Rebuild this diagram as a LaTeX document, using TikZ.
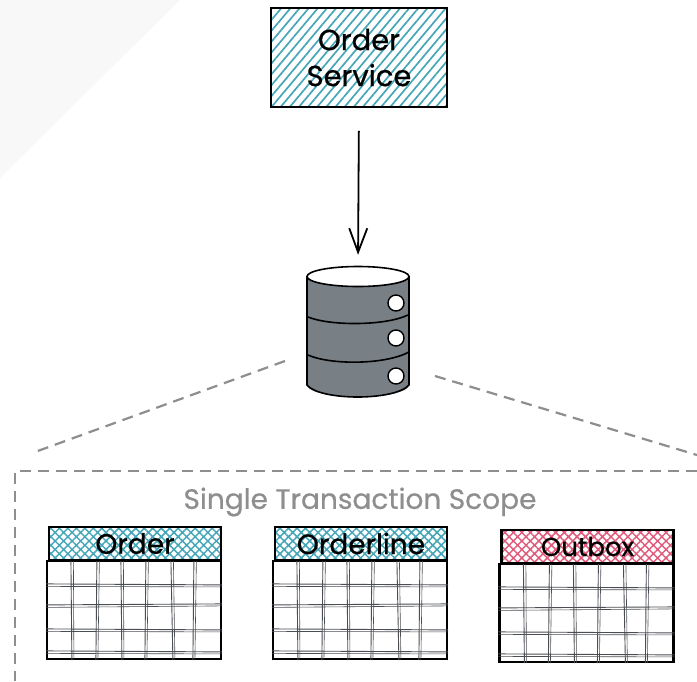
\documentclass[tikz,border=0pt]{standalone}
\usepackage{fontspec}
\setmainfont{Poppins}[FakeBold=0.6]
\usetikzlibrary{patterns.meta}
\usetikzlibrary{arrows.meta}
\definecolor{hatchteal}{HTML}{45A6B8}
\definecolor{hatchpink}{HTML}{DF5A7B}
\definecolor{dbgray}{HTML}{787F85}
\definecolor{scopegray}{HTML}{8E8E8E}
\definecolor{cornergray}{HTML}{F8F8F8}
\definecolor{gridgray}{HTML}{4A4E52}

\begin{document}
\begin{tikzpicture}[x=1pt,y=-1pt]
  \useasboundingbox (0,0) rectangle (697,681);
  \tikzstyle{boxline}=[draw=black,line width=2.2pt,inner sep=0pt]
  \tikzstyle{scopeline}=[draw=scopegray,line width=2.2pt,dash pattern=on 11pt off 7pt]
  \fill[cornergray] (0,0) -- (180,0) -- (0,178) -- cycle;

%% service and database
  \node[boxline,minimum width=176pt,minimum height=99pt,align=center,
        font=\fontsize{29}{36}\selectfont,
        pattern={Lines[angle=50,distance=7pt,line width=1.7pt]},pattern color=hatchteal]
        (service) at (359,57.5) {Order\\Service};
  \fill[dbgray] (307,276) -- (307,385) arc[x radius=51,y radius=-12,start angle=180,end angle=360] -- (409,276) -- cycle;
  \draw[line width=1.6pt] (307,276) -- (307,385) .. controls (320,401) and (395,401) .. (409,385) -- (409,276);
  \draw[line width=1.6pt,fill=white] (358,276.5) ellipse[x radius=51,y radius=10];
  \node[minimum width=102pt,minimum height=131pt,inner sep=0pt] (db) at (358,331.5) {};
  \draw[-{Straight Barb[length=24pt,width=18pt]},line width=1.8pt,shorten <=23pt,shorten >=11pt]
        (service.south) -- (db.north);

%% bands and holes of the database
  \draw[line width=1.6pt] (308,317) .. controls (330,326) and (385,326) .. (408,315);
  \draw[line width=1.6pt] (308,355) .. controls (330,365) and (385,365) .. (409,352);
  \foreach \n/\y in {1/303,2/338,3/376}
    \node[circle,draw=black,fill=white,line width=1.4pt,minimum size=16pt,inner sep=0pt] (hole\n) at (396,\y) {};

%% transaction scope
  \coordinate (dashL1) at (285,361);
  \coordinate (dashL2) at (35,452);
  \coordinate (dashR1) at (435,376);
  \coordinate (dashR2) at (697,455);
  \coordinate (scopeR) at (697,471);
  \coordinate (scopeC) at (15,471);
  \coordinate (scopeB) at (15,681);
  \draw[scopeline] (dashL1) -- (dashL2);
  \draw[scopeline] (dashR1) -- (dashR2);
  \draw[scopeline] (scopeR) -- (scopeC) -- (scopeB);
  \node[text=scopegray,inner sep=0pt,font=\fontsize{28}{32}\selectfont] (scope) at (360,502) {Single Transaction Scope};

%% tables
  \foreach \tbl/\x/\y/\col/\txt/\sz in {order/135/543.5/hatchteal/Order/28,
                                        orderline/361/543.5/hatchteal/Orderline/28,
                                        outbox/587.5/546.5/hatchpink/Outbox/26} {
    \node[boxline,minimum width=174pt,minimum height=98pt,fill=white] (\tbl-body) at (\x-1,\y+66.5) {};
    \foreach \a/\b in {25/26,51/50,75/76,100/99,125/127,148/147} {
      \draw[gridgray,line width=.9pt] ([xshift=\a pt] \tbl-body.north west) -- ([xshift=\b pt] \tbl-body.south west);
      \draw[gridgray,line width=.6pt] ([xshift=\a pt+2.5pt] \tbl-body.north west) -- ([xshift=\b pt+2pt] \tbl-body.south west);
    }
    \foreach \a/\b in {24/25,45/44,69/70,91/92} {
      \draw[gridgray,line width=.9pt] ([yshift=-\a pt] \tbl-body.north west) -- ([yshift=-\b pt] \tbl-body.north east);
      \draw[gridgray,line width=.6pt] ([yshift=-\a pt-2.5pt] \tbl-body.north west) -- ([yshift=-\b pt-2pt] \tbl-body.north east);
    }
    \node[boxline,minimum width=172pt,minimum height=33pt,font=\fontsize{\sz}{32}\selectfont,
          pattern={Hatch[angle=45,distance=6pt,line width=1.5pt]},pattern color=\col]
          (\tbl-head) at (\x,\y) {\txt};
  }
\end{tikzpicture}
\end{document}
